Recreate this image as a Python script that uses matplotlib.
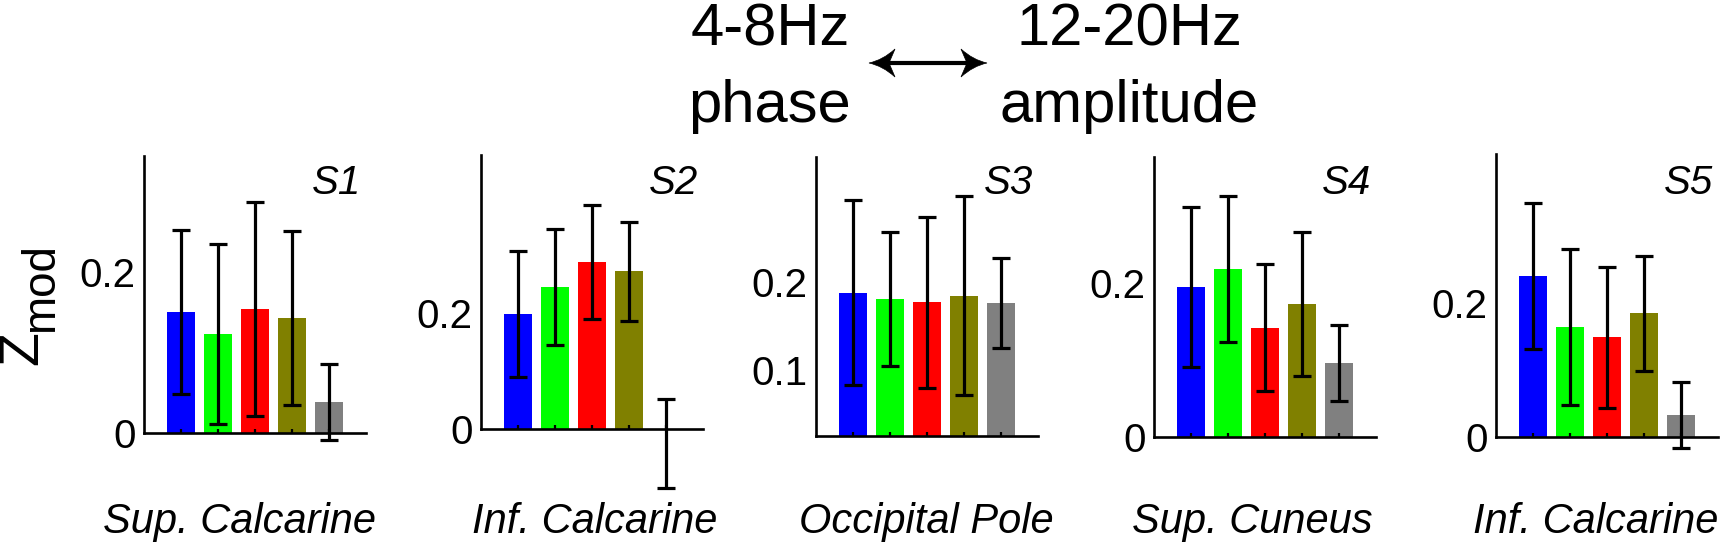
import numpy as np
import matplotlib
matplotlib.use('Agg')
import matplotlib.pyplot as plt
from matplotlib.path import Path
from matplotlib.patches import PathPatch
from matplotlib.lines import Line2D

plt.rcParams['font.family'] = ['Liberation Sans', 'DejaVu Sans']

# data
subjects = ['S1', 'S2', 'S3', 'S4', 'S5']
regions = ['Sup. Calcarine', 'Inf. Calcarine', 'Occipital Pole',
           'Sup. Cuneus', 'Inf. Calcarine']
bar_colors = ['#0000ff', '#00ff00', '#ff0000', '#808000', '#808080']

zmod_s1 = [0.150, 0.123, 0.154, 0.143, 0.0385]
err_s1 = [0.102, 0.112, 0.133, 0.108, 0.047]
zmod_s2 = [0.198, 0.244, 0.287, 0.271, -0.025]
err_s2 = [0.108, 0.099, 0.098, 0.085, 0.076]
zmod_s3 = [0.1875, 0.181, 0.177, 0.184, 0.1755]
err_s3 = [0.105, 0.076, 0.097, 0.113, 0.051]
zmod_s4 = [0.195, 0.219, 0.142, 0.173, 0.096]
err_s4 = [0.104, 0.095, 0.083, 0.094, 0.049]
zmod_s5 = [0.241, 0.165, 0.149, 0.185, 0.0325]
err_s5 = [0.110, 0.117, 0.106, 0.086, 0.049]

all_means = [zmod_s1, zmod_s2, zmod_s3, zmod_s4, zmod_s5]
all_errs = [err_s1, err_s2, err_s3, err_s4, err_s5]

y_limits = [(0, 0.344), (0, 0.471), (0.025, 0.342), (0, 0.365), (0, 0.424)]
y_ticks = [[0, 0.2], [0, 0.2], [0.1, 0.2], [0, 0.2], [0, 0.2]]
y_ticklabels = [['0', '0.2'], ['0', '0.2'], ['0.1', '0.2'], ['0', '0.2'], ['0', '0.2']]

# layout in pixels (figure is 1723 x 547)
W, H = 1723, 547
panel_left = [144, 481, 816, 1154, 1496]
panel_top = [156, 155, 156.7, 156.7, 154]
panel_bottom = [432.7, 429, 436, 436.7, 436.7]
panel_width = 222
label_center = [240, 595, 926, 1252, 1596]


def px_rect(left, top, bottom):
    return [left / W, (H - bottom) / H, panel_width / W, (bottom - top) / H]


def fx(px):
    return px / W


def fy(py):
    return 1 - py / H


def arrow_head(tip_x, y, sign):
    # concave ("stealth") head, sign=+1 points left, -1 points right
    L, hw, notch = 26, 14, 20
    pts = [(tip_x, y),
           (tip_x + sign * 14, y - 3), (tip_x + sign * L, y - hw),
           (tip_x + sign * notch, y),
           (tip_x + sign * L, y + hw),
           (tip_x + sign * 14, y + 3), (tip_x, y),
           (tip_x, y)]
    codes = [Path.MOVETO, Path.CURVE3, Path.CURVE3, Path.LINETO,
             Path.LINETO, Path.CURVE3, Path.CURVE3, Path.CLOSEPOLY]
    verts = [(fx(a), fy(b)) for a, b in pts]
    return PathPatch(Path(verts, codes), transform=fig.transFigure,
                     facecolor='k', edgecolor='k', lw=0.5)


fig = plt.figure(figsize=(W / 100, H / 100), dpi=100)

x = np.arange(1, 6)
for i in range(5):
    ax = fig.add_axes(px_rect(panel_left[i], panel_top[i], panel_bottom[i]))
    ax.bar(x, all_means[i], width=0.74, color=bar_colors, linewidth=0)
    eb = ax.errorbar(x, all_means[i], yerr=all_errs[i], fmt='none', ecolor='k',
                     elinewidth=2.3, capsize=6.5, capthick=2.3)
    for art in eb.lines[1] + eb.lines[2]:
        art.set_clip_on(False)

    ax.set_xlim(0, 6)
    ax.set_ylim(*y_limits[i])
    ax.set_xticks(x)
    ax.set_yticks(y_ticks[i])
    ax.set_yticklabels(y_ticklabels[i])
    ax.tick_params(axis='x', direction='in', length=3, width=1.6, labelbottom=False)
    ax.tick_params(axis='y', length=0, pad=6, labelsize=29)
    for side in ['top', 'right']:
        ax.spines[side].set_visible(False)
    for side in ['left', 'bottom']:
        ax.spines[side].set_linewidth(1.9)

    right_px = panel_left[i] + panel_width
    fig.text(fx(right_px - 5), fy(194), subjects[i], fontsize=29,
             style='italic', ha='right', va='baseline')
    fig.text(fx(label_center[i]), fy(533), regions[i], fontsize=30,
             style='italic', ha='center', va='baseline')

# y label Z_mod (rotated)
fig.text(fx(37), fy(365), 'Z', fontsize=40, rotation=90,
         rotation_mode='anchor', ha='left', va='baseline')
fig.text(fx(53), fy(332), 'mod', fontsize=33, rotation=90,
         rotation_mode='anchor', ha='left', va='baseline')

# header
fig.text(fx(770), fy(46), '4-8Hz', fontsize=43, ha='center', va='baseline')
fig.text(fx(770), fy(122), 'phase', fontsize=43, ha='center', va='baseline')
fig.text(fx(1129), fy(46), '12-20Hz', fontsize=43, ha='center', va='baseline')
fig.text(fx(1129), fy(122), 'amplitude', fontsize=43, ha='center', va='baseline')

fig.add_artist(Line2D([fx(888), fx(968)], [fy(63), fy(63)],
                      transform=fig.transFigure, color='k', lw=3))
fig.add_artist(arrow_head(869, 63, 1))
fig.add_artist(arrow_head(987, 63, -1))

fig.savefig('out.png', dpi=100)
plt.close(fig)
